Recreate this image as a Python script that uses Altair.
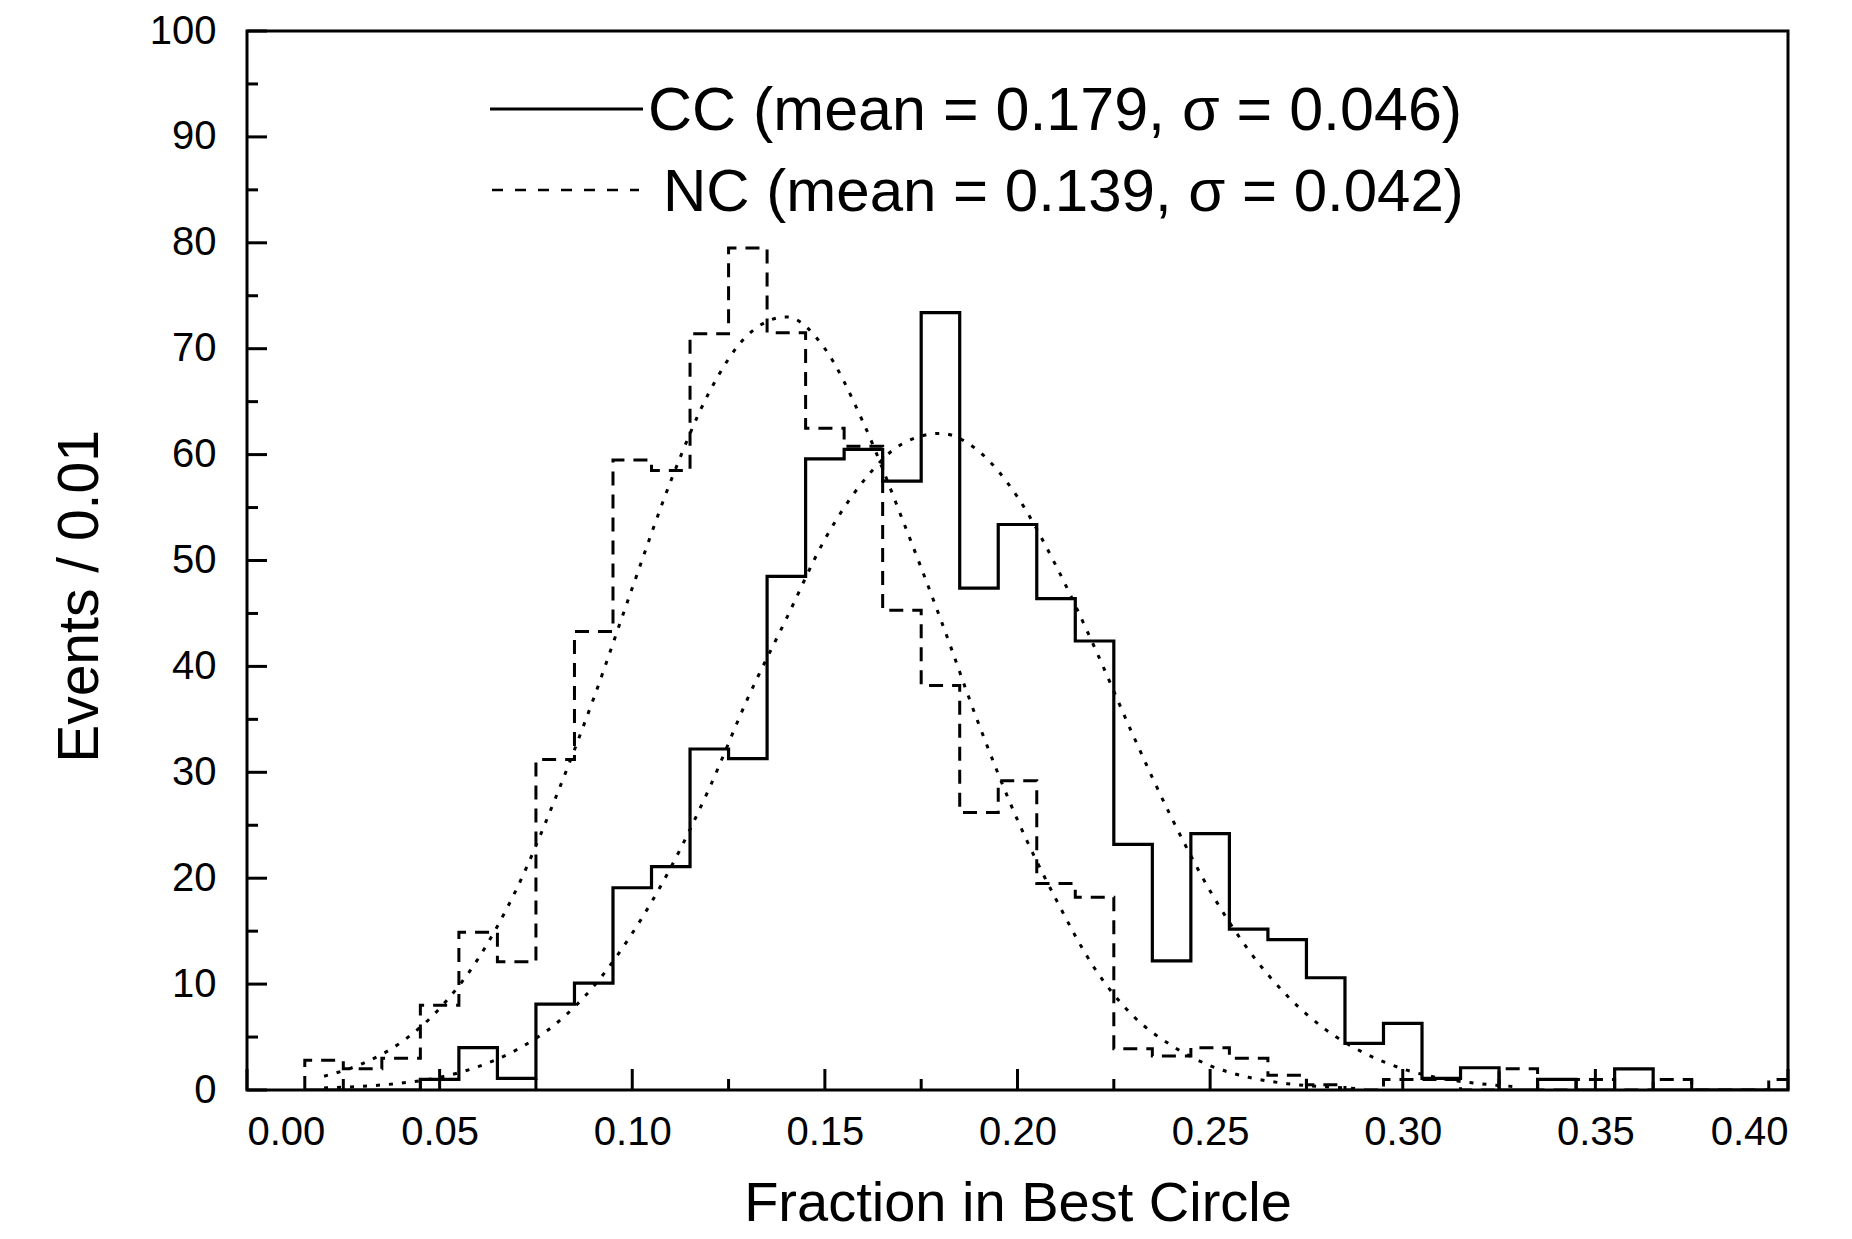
import altair as alt
import pandas as pd

# ---------------- data ----------------
bin_centers = [0.02, 0.03, 0.04, 0.05, 0.06, 0.07, 0.08, 0.09, 0.10, 0.11,
               0.12, 0.13, 0.14, 0.15, 0.16, 0.17, 0.18, 0.19, 0.20, 0.21,
               0.22, 0.23, 0.24, 0.25, 0.26, 0.27, 0.28, 0.29, 0.30, 0.31,
               0.32, 0.33, 0.34, 0.35, 0.36, 0.37, 0.38, 0.39, 0.40]
cc_counts = [0, 0, 0, 1.0, 4.0, 1.1, 8.1, 10.1, 19.1, 21.1,
             32.2, 31.3, 48.5, 59.6, 60.5, 57.5, 73.4, 47.4, 53.4, 46.4,
             42.4, 23.2, 12.2, 24.2, 15.2, 14.2, 10.6, 4.4, 6.3, 1.1,
             2.1, 0, 1.0, 0, 2.0, 0, 0, 0, 0]
nc_counts = [2.8, 2.0, 3.0, 8.0, 14.9, 12.1, 31.2, 43.3, 59.5, 58.5,
             71.4, 79.5, 71.5, 62.5, 60.8, 45.3, 38.2, 26.2, 29.2, 19.5,
             18.2, 3.9, 3.2, 4.0, 3.0, 1.4, 0.5, 0, 1.0, 1.0,
             0, 2.0, 0, 1.0, 0, 1.0, 0, 0, 1.0]

cc_fit_x = [0.02, 0.03, 0.04, 0.05, 0.06, 0.07, 0.08, 0.09, 0.10, 0.11,
            0.12, 0.13, 0.14, 0.15, 0.16, 0.17, 0.18, 0.19, 0.20, 0.21,
            0.22, 0.23, 0.24, 0.25, 0.26, 0.27, 0.28, 0.29, 0.30, 0.31,
            0.32, 0.33]
cc_fit_y = [0.2, 0.35, 0.65, 1.2, 2.2, 3.8, 6.2, 9.8, 14.8, 21.0,
            28.5, 37.0, 44.5, 52.0, 57.5, 61.0, 62.0, 60.3, 56.0, 49.5,
            41.8, 33.5, 25.7, 18.8, 13.2, 8.9, 5.7, 3.5, 2.0, 1.1,
            0.6, 0.3]
nc_fit_x = [0.02, 0.03, 0.04, 0.05, 0.06, 0.07, 0.08, 0.09, 0.10, 0.11,
            0.12, 0.13, 0.14, 0.15, 0.16, 0.17, 0.18, 0.19, 0.20, 0.21,
            0.22, 0.23, 0.24, 0.25, 0.26, 0.27, 0.28, 0.29]
nc_fit_y = [1.3, 2.5, 4.5, 7.7, 12.4, 19.0, 27.5, 37.0, 47.4, 57.5,
            65.9, 71.3, 73.0, 70.0, 63.0, 54.0, 44.5, 34.5, 25.5, 18.0,
            11.5, 7.0, 4.2, 2.3, 1.2, 0.6, 0.3, 0.1]

x_major_ticks = [0.00, 0.05, 0.10, 0.15, 0.20, 0.25, 0.30, 0.35, 0.40]
x_minor_ticks = [0.025, 0.075, 0.125, 0.175, 0.225, 0.275, 0.325, 0.375]
y_major_ticks = [0, 10, 20, 30, 40, 50, 60, 70, 80, 90, 100]
y_minor_ticks = [5, 15, 25, 35, 45, 55, 65, 75, 85, 95]

legend_cc = "CC (mean = 0.179, σ = 0.046)"
legend_nc = "NC (mean = 0.139, σ = 0.042)"
x_title = "Fraction in Best Circle"
y_title = "Events / 0.01"

# ---------------- layout ----------------
W, H = 1541, 1059
FONT = "Liberation Sans"
INK = "black"

half = (bin_centers[1] - bin_centers[0]) / 2


def step_frame(counts):
    xs = [bin_centers[0] - half] + [c - half for c in bin_centers] + [bin_centers[-1] + half]
    ys = [0] + list(counts) + [counts[-1]]
    return pd.DataFrame({"x": xs, "y": ys, "order": list(range(len(xs)))})


xs = alt.Scale(domain=[0, 0.4], nice=False, zero=False)
ys = alt.Scale(domain=[0, 100], nice=False)
xaxis = alt.Axis(values=x_major_ticks, format=".2f", title=x_title,
                 grid=False, ticks=False, domain=False,
                 labelFont=FONT, labelFontSize=40, labelPadding=22, labelColor=INK,
                 titleFont=FONT, titleFontSize=56, titleFontWeight="normal", titleColor=INK,
                 titleY=130, titleBaseline="alphabetic")
yaxis = alt.Axis(values=y_major_ticks, format="d", title=y_title,
                 grid=False, ticks=False, domain=False,
                 labelFont=FONT, labelFontSize=40, labelPadding=31, labelColor=INK,
                 titleFont=FONT, titleFontSize=57, titleFontWeight="normal", titleColor=INK,
                 titleX=-167, titleY=565, titleAngle=270, titleAlign="center",
                 titleBaseline="middle")

X = alt.X("x:Q", scale=xs, axis=xaxis)
Y = alt.Y("y:Q", scale=ys, axis=yaxis)

cc_hist = alt.Chart(step_frame(cc_counts)).mark_line(
    interpolate="step-after", color=INK, strokeWidth=3.2, clip=True
).encode(x=X, y=Y, order="order:Q")

nc_hist = alt.Chart(step_frame(nc_counts)).mark_line(
    interpolate="step-after", color=INK, strokeWidth=3.0, strokeDash=[14, 9], clip=True
).encode(x=X, y=Y, order="order:Q")

cc_fit = alt.Chart(pd.DataFrame({"x": cc_fit_x, "y": cc_fit_y})).mark_line(
    interpolate="monotone", color=INK, strokeWidth=3.0, strokeDash=[4, 9]
).encode(x=X, y=Y)

nc_fit = alt.Chart(pd.DataFrame({"x": nc_fit_x, "y": nc_fit_y})).mark_line(
    interpolate="monotone", color=INK, strokeWidth=3.0, strokeDash=[4, 9]
).encode(x=X, y=Y)

x_major = alt.Chart(pd.DataFrame({"x": x_major_ticks})).mark_rule(color=INK, strokeWidth=3).encode(
    x=X, y=alt.value(H), y2=alt.value(H - 21))
x_minor = alt.Chart(pd.DataFrame({"x": x_minor_ticks})).mark_rule(color=INK, strokeWidth=3).encode(
    x=X, y=alt.value(H), y2=alt.value(H - 11))
y_major = alt.Chart(pd.DataFrame({"y": y_major_ticks})).mark_rule(color=INK, strokeWidth=3).encode(
    y=Y, x=alt.value(0), x2=alt.value(20))
y_minor = alt.Chart(pd.DataFrame({"y": y_minor_ticks})).mark_rule(color=INK, strokeWidth=3).encode(
    y=Y, x=alt.value(0), x2=alt.value(11))

leg_cc_line = alt.Chart(pd.DataFrame({"k": [0]})).mark_rule(color=INK, strokeWidth=3).encode(
    x=alt.value(243), x2=alt.value(396), y=alt.value(78))
leg_nc_line = alt.Chart(pd.DataFrame({"k": [0]})).mark_rule(
    color=INK, strokeWidth=2.6, strokeDash=[11, 12]).encode(
    x=alt.value(245), x2=alt.value(392), y=alt.value(159))
leg_cc_text = alt.Chart(pd.DataFrame({"label": [legend_cc]})).mark_text(
    align="left", baseline="alphabetic", font=FONT, fontSize=61, color=INK
).encode(x=alt.value(401), y=alt.value(99), text="label:N")
leg_nc_text = alt.Chart(pd.DataFrame({"label": [legend_nc]})).mark_text(
    align="left", baseline="alphabetic", font=FONT, fontSize=60, color=INK
).encode(x=alt.value(416), y=alt.value(180), text="label:N")

chart = alt.layer(
    cc_fit, nc_fit, nc_hist, cc_hist,
    x_major, x_minor, y_major, y_minor,
    leg_cc_line, leg_nc_line, leg_cc_text, leg_nc_text
).properties(
    width=W, height=H,
    autosize=alt.AutoSizeParams(type="none"),
    padding={"left": 239, "top": 23, "right": 30, "bottom": 141},
).configure(
    font=FONT, background="white"
).configure_view(
    stroke=INK, strokeWidth=3
)

chart.save("out.html", embed_options={"renderer": "svg", "actions": False})
